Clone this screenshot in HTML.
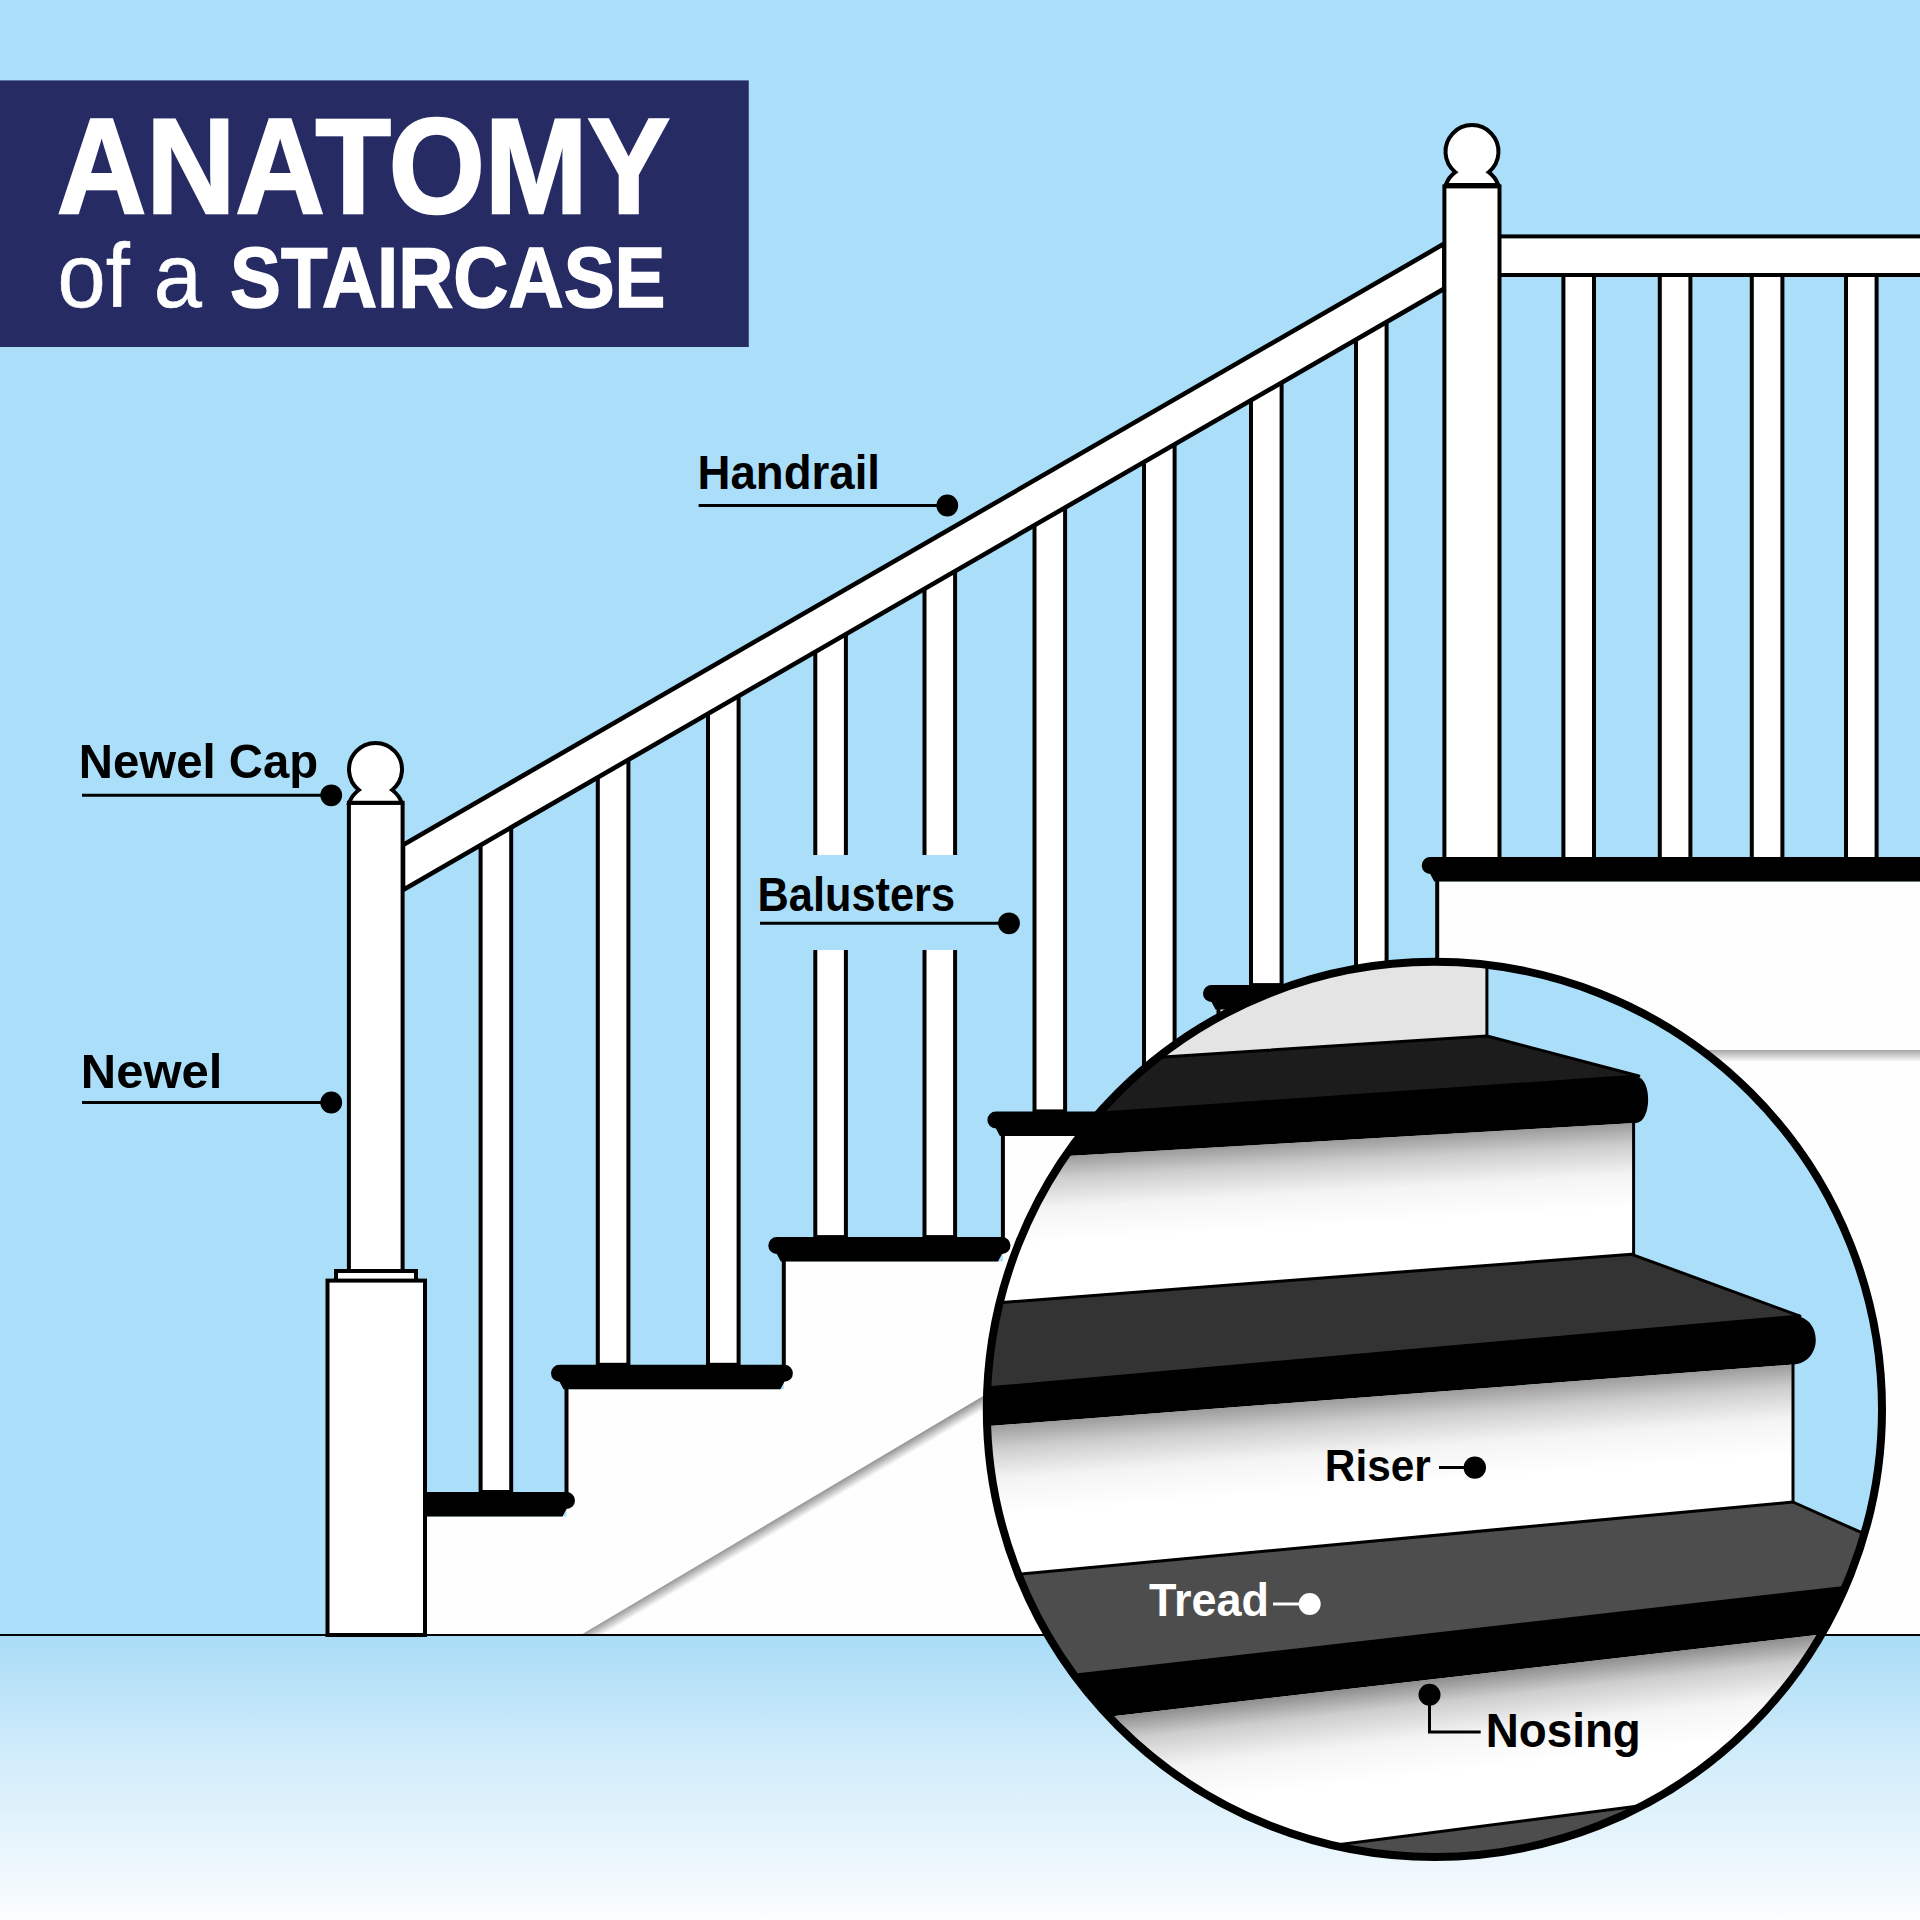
<!DOCTYPE html><html><head><meta charset="utf-8"><title>Anatomy of a Staircase</title>
<style>html,body{margin:0;padding:0;background:#abdff9;}svg{display:block;}text{font-family:"Liberation Sans",sans-serif;}</style></head><body>
<svg width="1920" height="1920" viewBox="0 0 1920 1920">
<defs>
<linearGradient id="floor" x1="0" y1="0" x2="0" y2="1"><stop offset="0" stop-color="#a9dcf7"/><stop offset="0.45" stop-color="#d3edfa"/><stop offset="1" stop-color="#fbfdff"/></linearGradient>
<linearGradient id="shH" x1="0" y1="0" x2="0" y2="1"><stop offset="0" stop-color="#000" stop-opacity="0.35"/><stop offset="1" stop-color="#000" stop-opacity="0"/></linearGradient>
<linearGradient id="shD" gradientUnits="userSpaceOnUse" x1="785" y1="1512.6" x2="791.5" y2="1523.6"><stop offset="0" stop-color="#000" stop-opacity="0.45"/><stop offset="1" stop-color="#000" stop-opacity="0"/></linearGradient>
<linearGradient id="riser" x1="0" y1="0" x2="0" y2="1"><stop offset="0" stop-color="#a6a6a6"/><stop offset="0.12" stop-color="#cfcfcf"/><stop offset="0.4" stop-color="#f3f3f3"/><stop offset="0.7" stop-color="#ffffff"/></linearGradient>
<clipPath id="circ"><circle cx="1434.4" cy="1409.4" r="448"/></clipPath>
</defs>
<rect x="0" y="0" width="1920" height="1920" fill="#abdff9"/>
<rect x="0" y="1635" width="1920" height="285" fill="url(#floor)"/>
<polygon fill="#fefefe" points="425.0,1635.0 1920.0,1635.0 1920.0,881.5 1437.2,881.5 1437.2,1009.6 1218.5,1009.6 1218.5,1135.9 1002.9,1135.9 1002.9,1261.6 783.8,1261.6 783.8,1389.3 566.5,1389.3 566.5,1516.5 425.0,1516.5"/>
<rect x="1430" y="1050" width="490" height="12" fill="url(#shH)"/>
<polygon points="580.8,1635 990,1392 990,1410 611,1635" fill="url(#shD)"/>
<g stroke="#000" stroke-width="4">
<line x1="566.5" y1="1388.3" x2="566.5" y2="1493.0"/>
<line x1="783.8" y1="1260.6" x2="783.8" y2="1365.8"/>
<line x1="1002.9" y1="1134.9" x2="1002.9" y2="1238.1"/>
<line x1="1218.5" y1="1008.6" x2="1218.5" y2="1112.4"/>
<line x1="1437.2" y1="880.5" x2="1437.2" y2="986.1"/>
</g>
<g fill="#fff" stroke="#000" stroke-width="4">
<rect x="480.6" y="815.1" width="30.6" height="676.9"/>
<rect x="597.8" y="747.4" width="30.6" height="617.4"/>
<rect x="708.0" y="683.8" width="30.6" height="681.0"/>
<rect x="815.3" y="621.8" width="30.6" height="615.3"/>
<rect x="924.5" y="558.8" width="30.6" height="678.3"/>
<rect x="1034.5" y="495.2" width="30.6" height="616.2"/>
<rect x="1144.0" y="432.0" width="30.6" height="679.4"/>
<rect x="1251.0" y="370.2" width="30.6" height="614.9"/>
<rect x="1356.0" y="309.6" width="30.6" height="675.5"/>
<rect x="1563.4" y="270.0" width="30.6" height="589.0"/>
<rect x="1659.8" y="270.0" width="30.6" height="589.0"/>
<rect x="1751.8" y="270.0" width="30.6" height="589.0"/>
<rect x="1846.0" y="270.0" width="30.6" height="589.0"/>
</g>
<polygon fill="#fff" stroke="#000" stroke-width="4.6" points="403.0,844.9 1444.4,243.6 1444.4,288.6 403.0,889.9"/>
<rect x="1499" y="236.4" width="440" height="38.6" fill="#fff" stroke="#000" stroke-width="4"/>
<rect x="1444.4" y="186.4" width="55.1" height="680" fill="#fff" stroke="#000" stroke-width="4"/>
<path fill="#fff" stroke="#000" stroke-width="4" d="M1455.3,172.2 A26.5,26.5 0 1 1 1488.7,172.2 A28,28 0 0 1 1498.3,185.0 L1445.7,185.0 A28,28 0 0 1 1455.3,172.2 Z"/>
<g fill="#000">
<path d="M338.5,1492.0 L566.5,1492.0 A8.5,8.5 0 0 1 566.5,1509.0 L562.5,1516.5 L342.5,1516.5 L338.5,1509.0 A8.5,8.5 0 0 1 338.5,1492.0 Z"/>
<path d="M559.5,1364.8 L784.4,1364.8 A8.5,8.5 0 0 1 784.4,1381.8 L780.4,1389.3 L563.5,1389.3 L559.5,1381.8 A8.5,8.5 0 0 1 559.5,1364.8 Z"/>
<path d="M776.8,1237.1 L1002.0,1237.1 A8.5,8.5 0 0 1 1002.0,1254.1 L998.0,1261.6 L780.8,1261.6 L776.8,1254.1 A8.5,8.5 0 0 1 776.8,1237.1 Z"/>
<path d="M995.9,1111.4 L1219.5,1111.4 A8.5,8.5 0 0 1 1219.5,1128.4 L1215.5,1135.9 L999.9,1135.9 L995.9,1128.4 A8.5,8.5 0 0 1 995.9,1111.4 Z"/>
<path d="M1211.5,985.1 L1437.5,985.1 A8.5,8.5 0 0 1 1437.5,1002.1 L1433.5,1009.6 L1215.5,1009.6 L1211.5,1002.1 A8.5,8.5 0 0 1 1211.5,985.1 Z"/>
<path d="M1430.2,857.0 L1951.5,857.0 A8.5,8.5 0 0 1 1951.5,874.0 L1947.5,881.5 L1434.2,881.5 L1430.2,874.0 A8.5,8.5 0 0 1 1430.2,857.0 Z"/>
</g>
<rect x="348.9" y="802.8" width="53.7" height="480" fill="#fff" stroke="#000" stroke-width="4"/>
<path fill="#fff" stroke="#000" stroke-width="4" d="M358.8,790.0 A26.5,26.5 0 1 1 392.2,790.0 A28,28 0 0 1 401.8,802.8 L349.2,802.8 A28,28 0 0 1 358.8,790.0 Z"/>
<rect x="336" y="1271" width="80" height="10" fill="#fff" stroke="#000" stroke-width="4"/>
<rect x="327.5" y="1280.6" width="97.5" height="354.4" fill="#fff" stroke="#000" stroke-width="4"/>
<line x1="0" y1="1635" x2="1920" y2="1635" stroke="#000" stroke-width="2"/>
<rect x="0" y="80.4" width="748.75" height="266.6" fill="#262b63"/>
<text x="57" y="213.4" font-size="135" font-weight="700" fill="#fff" stroke="#fff" stroke-width="2.5" textLength="613" lengthAdjust="spacingAndGlyphs">ANATOMY</text>
<text x="57.5" y="307" font-size="90" font-weight="400" fill="#fff" stroke="#fff" stroke-width="0.6" textLength="144.4" lengthAdjust="spacingAndGlyphs">of a</text>
<text x="230" y="307" font-size="86" font-weight="700" fill="#fff" stroke="#fff" stroke-width="1.5" textLength="435.5" lengthAdjust="spacingAndGlyphs">STAIRCASE</text>
<rect x="800" y="855" width="170" height="95" fill="#abdff9"/>
<text x="78.8" y="777.5" font-size="48.8" font-weight="700" fill="#000" textLength="239.4" lengthAdjust="spacingAndGlyphs">Newel Cap</text>
<line x1="82" y1="795.3" x2="331" y2="795.3" stroke="#000" stroke-width="3"/><circle cx="331.25" cy="795.3" r="10.9" fill="#000"/>
<text x="80.8" y="1087.5" font-size="48.8" font-weight="700" fill="#000" textLength="141.6" lengthAdjust="spacingAndGlyphs">Newel</text>
<line x1="82" y1="1102.5" x2="331" y2="1102.5" stroke="#000" stroke-width="3"/><circle cx="331.25" cy="1102.5" r="10.9" fill="#000"/>
<text x="697.6" y="488.6" font-size="48.8" font-weight="700" fill="#000" textLength="182.4" lengthAdjust="spacingAndGlyphs">Handrail</text>
<line x1="698.6" y1="505.5" x2="947" y2="505.5" stroke="#000" stroke-width="3"/><circle cx="947.3" cy="505.5" r="10.9" fill="#000"/>
<text x="757.6" y="910.8" font-size="48.8" font-weight="700" fill="#000" textLength="197.4" lengthAdjust="spacingAndGlyphs">Balusters</text>
<line x1="760" y1="923.3" x2="1009" y2="923.3" stroke="#000" stroke-width="3"/><circle cx="1009" cy="923.3" r="10.9" fill="#000"/>
<g clip-path="url(#circ)">
<rect x="980" y="950" width="920" height="920" fill="#abdff9"/>
<polygon fill="#e4e4e4" points="970.0,950 1486.9,950 1486.9,1036 970.0,1069.6"/>
<line x1="1486.9" y1="950" x2="1486.9" y2="1036" stroke="#000" stroke-width="3"/>
<polygon fill="#1c1c1c" stroke="#000" stroke-width="3" stroke-linejoin="round" points="970.0,1069.6 1487,1036 1638.8,1076 970.0,1122.2"/>
<path fill="#000" d="M970.0,1122.2 L1636.5,1076.5 C1652,1078 1652,1121 1636.5,1123 L970.0,1161.7 Z"/>
<linearGradient id="rgB" gradientUnits="userSpaceOnUse" x1="1300.0" y1="1142.5" x2="1304.9" y2="1227.4"><stop offset="0" stop-color="#9c9c9c"/><stop offset="0.25" stop-color="#cdcdcd"/><stop offset="0.6" stop-color="#f4f4f4"/><stop offset="1" stop-color="#ffffff"/></linearGradient>
<polygon fill="url(#rgB)" points="970.0,1161.7 1633.6,1123 1633.6,1254.5 970.0,1305.0"/>
<line x1="1633.6" y1="1122" x2="1633.6" y2="1255" stroke="#000" stroke-width="3"/>
<polygon fill="#333333" stroke="#000" stroke-width="3" stroke-linejoin="round" points="970.0,1305.0 1631.7,1254.3 1800,1316.1 970.0,1389.5"/>
<path fill="#000" d="M970.0,1389.5 L1795.2,1316 C1823,1318 1823,1363 1793,1364.5 L970.0,1427.4 Z"/>
<linearGradient id="rgD" gradientUnits="userSpaceOnUse" x1="1400.0" y1="1394.5" x2="1406.9" y2="1484.3"><stop offset="0" stop-color="#9c9c9c"/><stop offset="0.25" stop-color="#cdcdcd"/><stop offset="0.6" stop-color="#f4f4f4"/><stop offset="1" stop-color="#ffffff"/></linearGradient>
<polygon fill="url(#rgD)" points="970.0,1427.4 1793,1364.5 1793,1502 970.0,1578.7"/>
<line x1="1793" y1="1363" x2="1793" y2="1503" stroke="#000" stroke-width="3"/>
<polygon fill="#4d4d4d" stroke="#000" stroke-width="3" stroke-linejoin="round" points="970.0,1578.7 1792.9,1502 1861.7,1532.7 1930.0,1563.2 1930.0,1577.8 970.0,1687.1"/>
<polygon fill="#000" points="970.0,1687.1 1930.0,1577.8 1930.0,1621.9 970.0,1732.7"/>
<linearGradient id="rgF" gradientUnits="userSpaceOnUse" x1="1450.0" y1="1677.3" x2="1460.9" y2="1771.7"><stop offset="0" stop-color="#8e8e8e"/><stop offset="0.25" stop-color="#cdcdcd"/><stop offset="0.6" stop-color="#f4f4f4"/><stop offset="1" stop-color="#ffffff"/></linearGradient>
<polygon fill="url(#rgF)" points="970.0,1732.7 1930.0,1621.9 1930.0,1768.3 970.0,1892.3"/>
<polygon fill="#4d4d4d" stroke="#000" stroke-width="3" points="970.0,1892.3 1930.0,1768.3 1930.0,1900 970.0,1900"/>
</g>
<circle cx="1434.4" cy="1409.4" r="447.6" fill="none" stroke="#000" stroke-width="8"/>
<text x="1324.8" y="1480.6" font-size="45.0" font-weight="700" fill="#000" textLength="106.0" lengthAdjust="spacingAndGlyphs">Riser</text>
<line x1="1439" y1="1467.6" x2="1474" y2="1467.6" stroke="#000" stroke-width="3"/><circle cx="1474.8" cy="1467.6" r="11.2" fill="#000"/>
<text x="1149.0" y="1616.0" font-size="47.0" font-weight="700" fill="#fff" textLength="120.0" lengthAdjust="spacingAndGlyphs">Tread</text>
<line x1="1273" y1="1604" x2="1309" y2="1604" stroke="#fff" stroke-width="3"/><circle cx="1309.7" cy="1604" r="11" fill="#fff"/>
<text x="1485.8" y="1746.6" font-size="48.8" font-weight="700" fill="#000" textLength="155.0" lengthAdjust="spacingAndGlyphs">Nosing</text>
<path d="M1429.5,1694.8 V1732 H1480.7" fill="none" stroke="#000" stroke-width="3"/><circle cx="1429.5" cy="1694.8" r="11" fill="#000"/>
</svg></body></html>
